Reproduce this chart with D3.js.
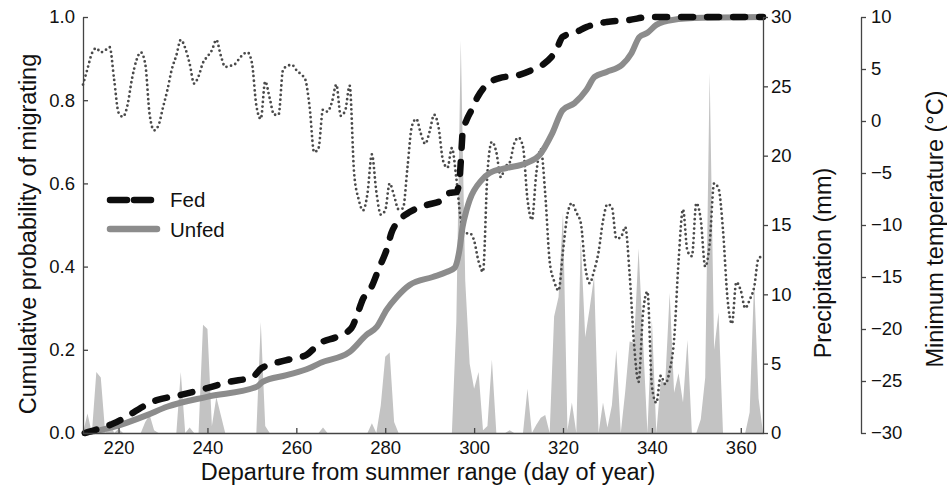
<!DOCTYPE html>
<html><head><meta charset="utf-8">
<script src="https://d3js.org/d3.v7.min.js"></script>
<style>
body{margin:0;background:#fff;}
text{font-family:"Liberation Sans",Arial,Helvetica,sans-serif;}
</style></head>
<body><svg id="c" width="947" height="492"></svg>
<script>
// ---------- data ----------
const firstDay = 212, lastDay = 365;
const xTicks = [220, 240, 260, 280, 300, 320, 340, 360];
const probTicks = [0, 0.2, 0.4, 0.6, 0.8, 1.0];
const precipTicks = [0, 5, 10, 15, 20, 25, 30];
const tempTicks = [-30, -25, -20, -15, -10, -5, 0, 5, 10];
const seriesNames = ["Fed", "Unfed"];

// daily precipitation (mm), days 212..365
const precip = [
  0, 1.4, 0, 4.4, 4.0, 0, 0.9, 0, 0.3, 0,
  0, 0, 0, 0, 0.8, 1.3, 0.2, 0, 0, 0,
  0, 0, 4.4, 0, 0.4, 0, 0, 7.8, 7.5, 0.5,
  2.6, 1.3, 0, 0, 0, 0, 0, 0, 0, 0,
  8.0, 0.5, 0, 0, 0, 0, 0, 0, 0, 0,
  0, 0, 0, 0, 0.4, 0, 0, 0, 0, 0,
  0, 0, 0, 0, 0, 0.7, 0, 2.0, 5.5, 5.8,
  0.8, 0, 0, 0, 0, 0, 0, 0, 0, 0,
  0, 0, 0, 0, 8.0, 28.3, 11.0, 5.0, 3.2, 4.4,
  0.2, 0.5, 5.3, 0, 0, 0, 0.2, 0, 0, 0,
  3.2, 0, 0.6, 1.1, 1.3, 0, 8.4, 9.8, 15.9, 0.2,
  2.2, 0, 13.9, 6.9, 9.0, 11.3, 0, 2.2, 0.4, 2.0,
  6.0, 0, 3.0, 6.6, 6.5, 13.3, 6.7, 0, 8.2, 0,
  3.8, 3.6, 10.1, 2.9, 4.3, 2.2, 6.7, 0, 0, 1.0,
  4.0, 26.0, 6.0, 8.7, 0, 0, 0, 0, 0, 0,
  1.5, 11.0, 2.5, 0
];

// daily minimum temperature (°C), days 212..365
const tmin = [
  3.5, 5.0, 6.5, 7.0, 6.6, 6.8, 7.1, 4.0, 0.8, 0.4,
  1.5, 4.0, 5.8, 6.6, 5.5, 0.6, -0.9, -0.4, 1.3, 3.0,
  5.0, 6.3, 7.8, 7.0, 5.5, 3.6, 4.3, 5.6, 6.2, 6.8,
  7.8, 6.3, 5.2, 5.3, 5.4, 5.9, 6.4, 6.6, 5.6, 1.5,
  0.2, 3.8, 2.2, 0.6, 0.6, 4.9, 5.3, 5.4, 4.9, 4.5,
  4.0, 1.3, -3.0, -2.6, 1.1, 0.9, 1.8, 3.5, 0.5, 1.0,
  3.4, -5.0, -7.5, -8.6, -7.0, -3.2, -6.8, -9.0, -8.6, -6.0,
  -7.2, -8.5, -8.4, -4.5, -0.5, 0.2, -1.2, -2.2, -1.0, 0.6,
  -0.6, -3.8, -4.5, -2.6, -5.5, -9.5, -10.8, -10.8, -11.5, -13.5,
  -14.5, -5.0, -2.0, -3.0, -5.4, -4.4, -4.0, -2.2, -1.6, -2.5,
  -7.5, -9.5, -5.0, -2.7, -7.0, -13.5, -15.4, -16.3, -12.5, -9.0,
  -7.9, -8.8, -9.8, -14.0, -15.6, -14.4, -12.6, -9.6, -8.0, -8.3,
  -11.3, -11.2, -10.2, -14.8, -21.5, -25.1, -18.5, -16.4, -25.5, -27.1,
  -24.5, -25.3, -24.0, -21.0, -13.5, -8.5, -12.5, -13.0, -7.9, -9.5,
  -14.0, -11.8, -6.0, -6.5, -10.5, -17.0, -19.5, -15.5, -16.3, -18.0,
  -17.2, -16.0, -13.2, -13.0
];

// cumulative probability curves
const fedDays = [212.4, 218.7, 228.6, 233.8, 239.9, 245.0, 250.2, 252.2, 257.8, 262.3, 265.3, 269.1, 272.4, 273.8, 274.9, 276.9, 278.7, 280.3, 281.4, 283.2, 285.5, 289.3, 292.9, 294.5, 296.0, 296.7, 297.2, 297.4, 298.3, 299.4, 300.8, 302.8, 305.7, 310.2, 313.1, 315.4, 318.5, 319.9, 323.0, 325.3, 329.8, 334.9, 339.4, 365];
const fedP = [0, 0.022, 0.079, 0.091, 0.108, 0.123, 0.135, 0.156, 0.175, 0.188, 0.216, 0.231, 0.252, 0.288, 0.320, 0.351, 0.399, 0.440, 0.481, 0.512, 0.531, 0.548, 0.560, 0.577, 0.579, 0.608, 0.688, 0.721, 0.752, 0.776, 0.808, 0.837, 0.853, 0.861, 0.873, 0.885, 0.921, 0.952, 0.964, 0.976, 0.988, 0.993, 1.0, 1.0];
const unfedDays = [212.4, 218.7, 226.4, 230.9, 239.9, 251.1, 252.4, 257.8, 263.0, 265.3, 272.0, 275.8, 278.1, 280.3, 282.6, 285.5, 290.7, 293.8, 295.6, 296.7, 297.4, 298.3, 299.0, 301.7, 303.5, 307.3, 311.8, 314.7, 317.6, 319.9, 322.6, 325.3, 327.1, 329.8, 333.3, 335.4, 337.2, 339.0, 341.0, 344.6, 351.3, 365];
const unfedP = [0, 0.014, 0.043, 0.063, 0.087, 0.111, 0.123, 0.139, 0.156, 0.168, 0.195, 0.236, 0.255, 0.296, 0.327, 0.356, 0.375, 0.387, 0.397, 0.440, 0.495, 0.536, 0.560, 0.608, 0.625, 0.637, 0.649, 0.668, 0.721, 0.776, 0.793, 0.825, 0.856, 0.868, 0.885, 0.913, 0.952, 0.962, 0.981, 0.993, 0.998, 1.0];

// ---------- chart ----------
const svg = d3.select("#c");
const L = 83, R = 763, T = 17, B = 433, TEMPX = 861;
const days = d3.range(firstDay, lastDay + 1);
const x = d3.scaleLinear().domain([firstDay, lastDay]).range([L, R]);
const yP = d3.scaleLinear().domain([0, 1]).range([B, T]);
const yR = d3.scaleLinear().domain([0, 30]).range([B, T]);
const yT = d3.scaleLinear().domain([-30, 10]).range([B, T]);

// precipitation area
const pData = days.map((d, i) => ({d, v: precip[i]}));
svg.append("path").datum(pData)
  .attr("fill", "#c3c3c3")
  .attr("d", d3.area().x(p => x(p.d)).y0(yR(0)).y1(p => yR(p.v)));

// temperature dotted line
const tData = days.map((d, i) => ({d, v: tmin[i]}));
svg.append("path").datum(tData)
  .attr("fill", "none").attr("stroke", "#4a4a4a")
  .attr("stroke-width", 2.8).attr("stroke-linecap", "round")
  .attr("stroke-dasharray", "0,4.7")
  .attr("d", d3.line().x(p => x(p.d)).y(p => yT(p.v)).curve(d3.curveMonotoneX));

// cumulative curves
const lineP = d3.line().x(p => x(p[0])).y(p => yP(p[1])).curve(d3.curveMonotoneX);
svg.append("path").datum(unfedDays.map((d, i) => [d, unfedP[i]]))
  .attr("fill", "none").attr("stroke", "#8c8c8c").attr("stroke-width", 6)
  .attr("stroke-linejoin", "round").attr("stroke-linecap", "round")
  .attr("d", lineP);
svg.append("path").datum(fedDays.map((d, i) => [d, fedP[i]]))
  .attr("fill", "none").attr("stroke", "#0d0d0d").attr("stroke-width", 6.5)
  .attr("stroke-linecap", "round").attr("stroke-dasharray", "12,14")
  .attr("d", lineP);

// axes
function styleAxis(g, fs) {
  g.selectAll(".domain").attr("stroke", "#444").attr("stroke-width", 1.3);
  g.selectAll(".tick line").attr("stroke", "#444").attr("stroke-width", 1.3);
  g.selectAll(".tick text").attr("fill", "#111").style("font-size", fs + "px")
    .style("font-family", "'Liberation Sans', Arial, sans-serif");
}
const tkfs = 18.5;
const gx = svg.append("g").attr("transform", `translate(0,${B})`)
  .call(d3.axisBottom(x).tickValues(xTicks).tickSizeInner(-5).tickSizeOuter(0).tickPadding(8));
styleAxis(gx, tkfs);
const gl = svg.append("g").attr("transform", `translate(${L},0)`)
  .call(d3.axisLeft(yP).tickValues(probTicks).tickFormat(d3.format(".1f")).tickSizeInner(-5).tickSizeOuter(0).tickPadding(8));
styleAxis(gl, tkfs);
const gr = svg.append("g").attr("transform", `translate(${R},0)`)
  .call(d3.axisRight(yR).tickValues(precipTicks).tickSizeInner(5).tickSizeOuter(0).tickPadding(3));
styleAxis(gr, tkfs);
const gt = svg.append("g").attr("transform", `translate(${TEMPX},0)`)
  .call(d3.axisRight(yT).tickValues(tempTicks).tickSizeInner(5).tickSizeOuter(0).tickPadding(5));
styleAxis(gt, tkfs);

// titles
const tfs = 23.5;
svg.append("text").attr("transform", `translate(${(L+R)/2+5},480)`)
  .attr("text-anchor", "middle").style("font-size", tfs + "px").attr("fill", "#111")
  .text("Departure from summer range (day of year)");
svg.append("text").attr("transform", `translate(36,${(T+B)/2+9}) rotate(-90)`)
  .attr("text-anchor", "middle").style("font-size", tfs + "px").attr("fill", "#111")
  .text("Cumulative probability of migrating");
svg.append("text").attr("transform", `translate(831,${(T+B)/2+38}) rotate(-90)`)
  .attr("text-anchor", "middle").style("font-size", tfs + "px").attr("fill", "#111")
  .text("Precipitation (mm)");
svg.append("text").attr("transform", `translate(943,${(T+B)/2+4}) rotate(-90)`)
  .attr("text-anchor", "middle").style("font-size", tfs + "px").attr("fill", "#111")
  .text("Minimum temperature (°C)");

// legend
const lg = svg.append("g");
lg.append("line").attr("x1", 110).attr("x2", 157).attr("y1", 200).attr("y2", 200)
  .attr("stroke", "#0d0d0d").attr("stroke-width", 6.5).attr("stroke-linecap", "round")
  .attr("stroke-dasharray", "17,7");
lg.append("text").attr("x", 170).attr("y", 207).style("font-size", "20.5px").attr("fill", "#111").text(seriesNames[0]);
lg.append("line").attr("x1", 110).attr("x2", 157).attr("y1", 229).attr("y2", 229)
  .attr("stroke", "#8c8c8c").attr("stroke-width", 6.5).attr("stroke-linecap", "round");
lg.append("text").attr("x", 170).attr("y", 237).style("font-size", "20.5px").attr("fill", "#111").text(seriesNames[1]);
</script></body></html>
